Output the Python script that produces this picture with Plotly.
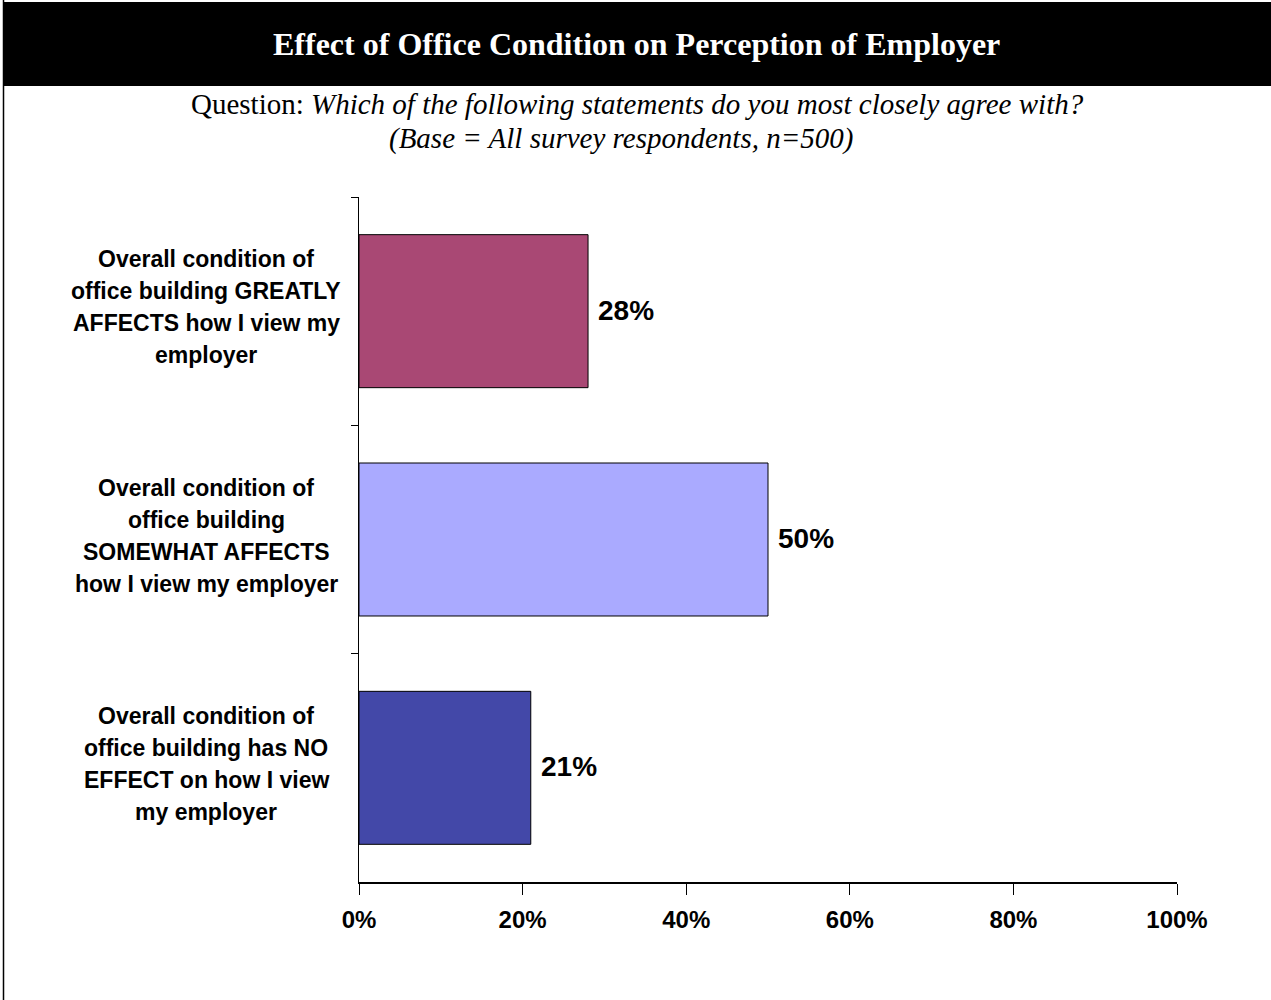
import plotly.graph_objects as go

categories = ["GREATLY", "SOMEWHAT", "NO EFFECT"]
label_lines = [
    ["Overall condition of", "office building GREATLY", "AFFECTS how I view my", "employer"],
    ["Overall condition of", "office building", "SOMEWHAT AFFECTS", "how I view my employer"],
    ["Overall condition of", "office building has NO", "EFFECT on how I view", "my employer"],
]
values = [0.28, 0.50, 0.21]
value_labels = ["28%", "50%", "21%"]
colors = ["#A94874", "#AAAAFF", "#4348A8"]
tick_vals = [0, 0.2, 0.4, 0.6, 0.8, 1.0]
tick_text = ["0%", "20%", "40%", "60%", "80%", "100%"]

W, H = 1271, 1000
L, R, T, B = 359, 94, 197, 118
pw, ph = W - L - R, H - T - B

def px_x(px):
    return (px - L) / pw

def px_y(py):
    return (H - B - py) / ph

sans = "Arial, Liberation Sans, sans-serif"
serif = "Times New Roman, Liberation Serif, serif"

fig = go.Figure()
fig.add_trace(go.Bar(
    y=categories, x=values, orientation="h",
    marker=dict(color=colors, line=dict(color="#000000", width=1)),
    width=0.67, hoverinfo="skip", showlegend=False,
))

annotations = []
for cat, lines in zip(categories, label_lines):
    for i, line in enumerate(lines):
        annotations.append(dict(
            x=px_x(206), xref="paper", y=cat, yref="y",
            text="<b>" + line + "</b>", showarrow=False,
            xanchor="center", yanchor="middle",
            yshift=-(-52 + 32 * i),
            font=dict(family=sans, size=23, color="#000000"),
        ))
for cat, v, t in zip(categories, values, value_labels):
    annotations.append(dict(
        x=v, xref="x", y=cat, yref="y", text="<b>" + t + "</b>",
        showarrow=False, xanchor="left", yanchor="middle", xshift=8, yshift=1,
        font=dict(family=sans, size=28, color="#000000"),
    ))

annotations.append(dict(
    x=px_x(636), xref="paper", y=px_y(44), yref="paper",
    text="<b>Effect of Office Condition on Perception of Employer</b>",
    showarrow=False, xanchor="center", yanchor="middle",
    font=dict(family=serif, size=32, color="#FFFFFF"),
))
annotations.append(dict(
    x=px_x(637), xref="paper", y=px_y(104), yref="paper",
    text="Question: <i>Which of the following statements do you most closely agree with?</i>",
    showarrow=False, xanchor="center", yanchor="middle",
    font=dict(family=serif, size=29, color="#000000"),
))
annotations.append(dict(
    x=px_x(621), xref="paper", y=px_y(138), yref="paper",
    text="<i>(Base = All survey respondents, n=500)</i>",
    showarrow=False, xanchor="center", yanchor="middle",
    font=dict(family=serif, size=29, color="#000000"),
))

shapes = [
    dict(type="rect", xref="paper", yref="paper",
         x0=px_x(3), x1=px_x(1275), y0=px_y(86), y1=px_y(2),
         fillcolor="#000000", line=dict(width=0), layer="above"),
    dict(type="line", xref="paper", yref="paper",
         x0=px_x(3.5), x1=px_x(3.5), y0=px_y(0), y1=px_y(1002),
         line=dict(color="#000000", width=1.5)),
]

fig.update_layout(
    width=W, height=H,
    margin=dict(l=L, r=R, t=T, b=B, autoexpand=False),
    paper_bgcolor="#FFFFFF", plot_bgcolor="#FFFFFF",
    annotations=annotations, shapes=shapes,
    xaxis=dict(
        range=[0, 1], tickvals=tick_vals, ticktext=tick_text,
        showgrid=False, zeroline=False,
        showline=True, linecolor="#000000", linewidth=2,
        ticks="outside", ticklen=11, tickcolor="#000000", tickwidth=1,
        ticklabelstandoff=4,
        tickfont=dict(family=sans, size=24, color="#000000", weight="bold"),
        fixedrange=True,
    ),
    yaxis=dict(
        type="category", categoryorder="array", categoryarray=categories,
        autorange="reversed", range=[2.5, -0.5],
        showticklabels=False, showgrid=False, zeroline=False,
        showline=True, linecolor="#000000", linewidth=1,
        ticks="outside", ticklen=7, tickcolor="#000000", tickwidth=1,
        tickson="boundaries", fixedrange=True,
    ),
)

fig.write_html(
    "out.html",
    config={"displayModeBar": False},
    post_script="document.body.style.margin='0px';document.body.style.overflow='hidden';",
)
